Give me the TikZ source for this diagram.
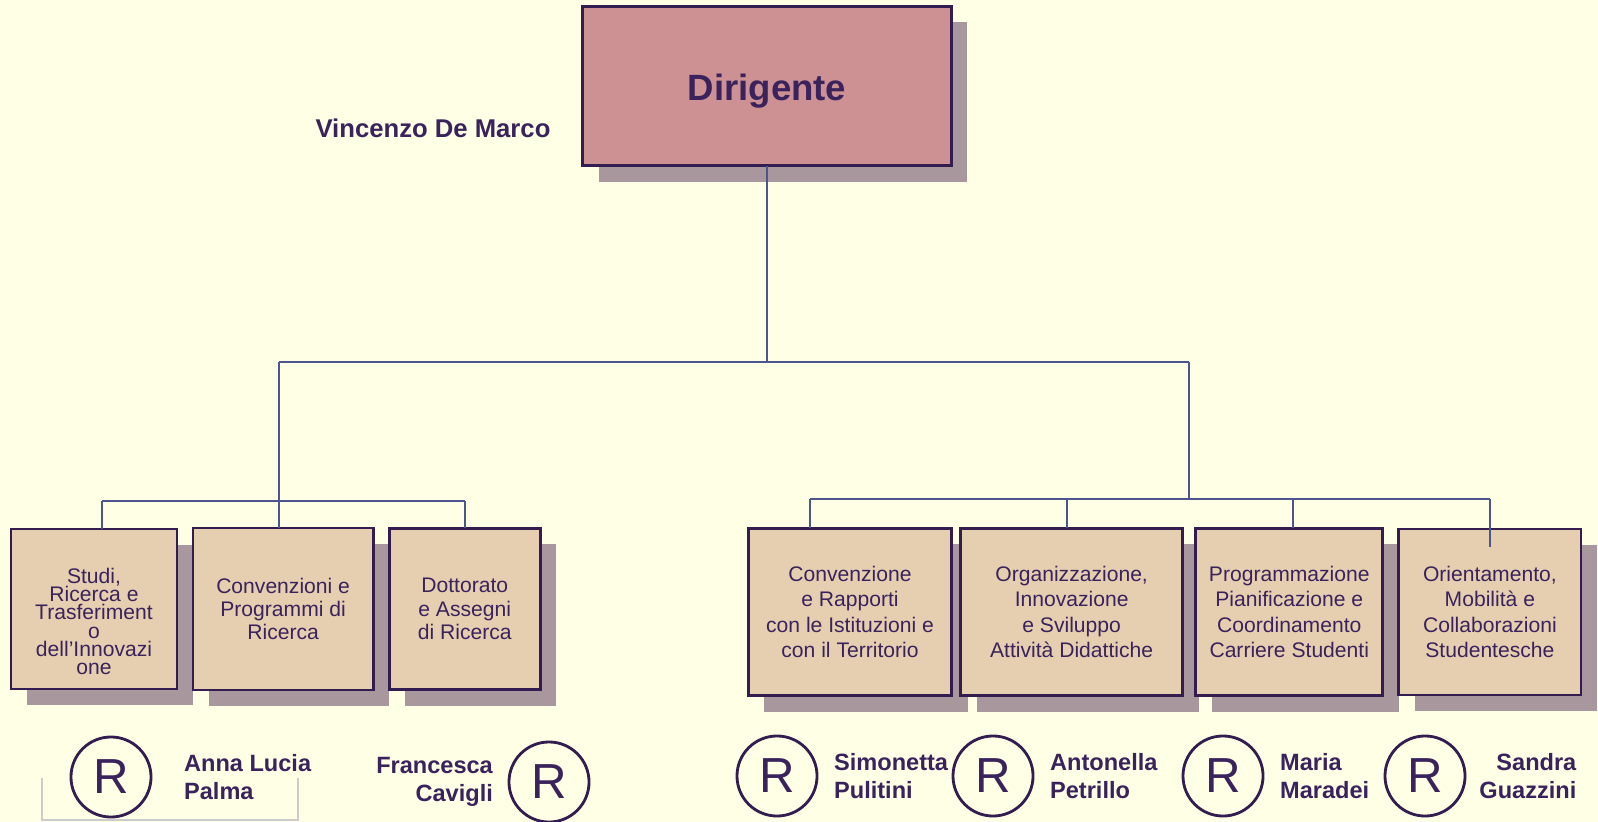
\documentclass[tikz,border=0pt]{standalone}
\usepackage{fontspec}
\setmainfont{Liberation Sans}
\usetikzlibrary{positioning,shadows}

\definecolor{bgcream}{RGB}{255,255,229}
\definecolor{pinkfill}{RGB}{205,145,147}
\definecolor{tanfill}{RGB}{230,207,176}
\definecolor{shadowmauve}{RGB}{168,151,156}
\definecolor{borderpurple}{RGB}{51,28,80}
\definecolor{textpurple}{RGB}{58,34,92}
\definecolor{linkblue}{RGB}{74,86,140}

\begin{document}
\begin{tikzpicture}[
    x=0.01cm, y=-0.01cm,
    capo/.style={rectangle, draw=borderpurple, line width=0.8pt, fill=pinkfill, inner sep=0pt, outer sep=0pt,
        minimum width=3.68cm, minimum height=1.59cm, text=textpurple,
        drop shadow={shadow xshift=0.16cm, shadow yshift=-0.16cm, fill=shadowmauve, opacity=1},
        font=\bfseries\fontsize{10.4}{12}\selectfont},
    ufficio/.style={rectangle, draw=borderpurple, line width=0.8pt, fill=tanfill, inner sep=0pt, outer sep=0pt,
        align=center, text=textpurple,
        drop shadow={shadow xshift=0.16cm, shadow yshift=-0.16cm, fill=shadowmauve, opacity=1},
        font=\fontsize{6}{6.6}\selectfont},
    resp/.style={circle, draw=borderpurple, line width=0.8pt, fill=bgcream, inner sep=0pt,
        minimum size=0.8cm, text=textpurple, font=\fontsize{14}{14}\selectfont},
    nome/.style={inner sep=0pt, text=textpurple, font=\bfseries\fontsize{6.7}{7.8}\selectfont},
    linea/.style={draw=linkblue, line width=0.7pt},
]
    \fill[bgcream] (0,0) rectangle (1598,822);
    \useasboundingbox (0,0) rectangle (1598,822);

    %node
    \node[capo] (dir) at (767,86) {\rule{0pt}{10.5pt}Dirigente};
    \node[nome, font=\bfseries\fontsize{7.3}{8}\selectfont] (vdm) at (433,128) {Vincenzo De Marco};

    \node[ufficio, minimum width=1.66cm, minimum height=1.60cm, font=\fontsize{6}{5.2}\selectfont] (s1) at (94,609)
        {\rule{0pt}{0.4cm}Studi,\\Ricerca e\\Trasferiment\\o\\dell’Innovazi\\one};
    \node[ufficio, minimum width=1.80cm, minimum height=1.62cm] (s2) [right=0.16cm of s1]
        {Convenzioni e\\Programmi di\\Ricerca};
    \node[ufficio, minimum width=1.51cm, minimum height=1.61cm] (s3) [right=0.16cm of s2]
        {Dottorato\\e Assegni\\di Ricerca};

    \node[ufficio, minimum width=2.03cm, minimum height=1.67cm, font=\fontsize{6}{7.2}\selectfont] (r1) at (850,612)
        {Convenzione\\e Rapporti\\con le Istituzioni e\\con il Territorio};
    \node[ufficio, minimum width=2.22cm, minimum height=1.67cm, font=\fontsize{6}{7.2}\selectfont] (r2) [right=0.09cm of r1]
        {Organizzazione,\\Innovazione\\e Sviluppo\\Attività Didattiche};
    \node[ufficio, minimum width=1.87cm, minimum height=1.67cm, font=\fontsize{6}{7.2}\selectfont] (r3) [right=0.13cm of r2]
        {Programmazione\\Pianificazione e\\Coordinamento\\Carriere Studenti};
    \node[ufficio, minimum width=1.82cm, minimum height=1.66cm, font=\fontsize{6}{7.2}\selectfont] (r4) [right=0.16cm of r3]
        {Orientamento,\\Mobilità e\\Collaborazioni\\Studentesche};

    %responsabili
    \node[resp] (rs1) at (111,777) {R};
    \node[resp] (rs2) at (549,782) {R};
    \node[resp] (rr1) at (777,776) {R};
    \node[resp] (rr2) at (993,776) {R};
    \node[resp] (rr3) at (1223,776) {R};
    \node[resp] (rr4) at (1425,776) {R};

    \node[nome, align=left] (ns1) [right=0.31cm of rs1] {Anna Lucia\\Palma};
    \node[nome, align=right] (ns2) [left=0.14cm of rs2] {Francesca\\Cavigli};
    \node[nome, align=left] (nr1) [right=0.15cm of rr1] {Simonetta\\Pulitini};
    \node[nome, align=left] (nr2) [right=0.15cm of rr2] {Antonella\\Petrillo};
    \node[nome, align=left] (nr3) [right=0.15cm of rr3] {Maria\\Maradei};
    \node[nome, align=right, anchor=east] (nr4) at (1577,776) {Sandra\\Guazzini};

    %lines
    \coordinate (busL) at (279,362);
    \coordinate (busR) at (1189,362);
    \coordinate (lbL) at (102,501);
    \coordinate (lbR) at (465,501);
    \coordinate (rbL) at (810,499);
    \coordinate (rb2) at (1067,499);
    \coordinate (rb3) at (1293,499);
    \coordinate (rbR) at (1490,499);
    \coordinate (rbEnd) at (1490,547);

    \draw[linea] (dir.south) -- (dir.south |- busL);
    \draw[linea] (busL) -- (busR);
    \draw[linea] (busL) -- (busL |- s2.north);
    \draw[linea] (lbL) -- (lbR);
    \draw[linea] (lbL) -- (lbL |- s1.north);
    \draw[linea] (lbR) -- (lbR |- s3.north);
    \draw[linea] (busR) -- (busR |- rbL);
    \draw[linea] (rbL) -- (rbR);
    \draw[linea] (rbL) -- (rbL |- r1.north);
    \draw[linea] (rb2) -- (rb2 |- r2.north);
    \draw[linea] (rb3) -- (rb3 |- r3.north);
    \draw[linea] (rbR) -- (rbEnd);

    \draw[black!20, line width=0.6pt] (42,778) -- (42,820) -- (298,820) -- (298,778);
\end{tikzpicture}
\end{document}
